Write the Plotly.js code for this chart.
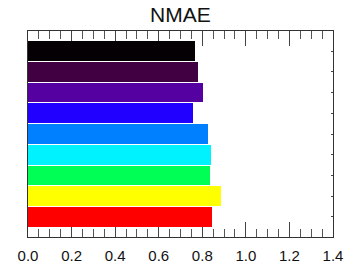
<!DOCTYPE html>
<html>
<head>
<meta charset="utf-8">
<script src="https://cdn.plot.ly/plotly-3.0.1.min.js"></script>
<style>html,body{margin:0;padding:0;background:#fff}#chart{width:347px;height:266px}</style>
</head>
<body>
<div id="chart"></div>
<script>
// bottom to top
const positions = [0, 1, 2, 3, 4, 5, 6, 7, 8];
const values = [0.843, 0.884, 0.835, 0.838, 0.825, 0.757, 0.805, 0.782, 0.765];
const colors = ['#ff0000', '#ffff00', '#00ff55', '#00f2ff', '#0080ff', '#2200ff', '#5500a0', '#400042', '#040004'];
const xRange = [0, 1.4];
const xMajorStep = 0.2;
const xMinorStep = 0.05;

const trace = {
  type: 'bar',
  orientation: 'h',
  x: values,
  y: positions,
  width: 0.95,
  marker: {color: colors, line: {width: 0}},
  hoverinfo: 'x'
};
// invisible helper so the top axis (with its minor ticks) is drawn
const topHelper = {
  type: 'scatter', mode: 'markers', x: [0], y: [0],
  xaxis: 'x2', yaxis: 'y', marker: {opacity: 0}, hoverinfo: 'skip'
};

const tickStyle = {
  range: xRange,
  tickmode: 'linear',
  tick0: 0,
  dtick: xMajorStep,
  tickformat: '.1f',
  ticks: 'inside',
  ticklen: 15,
  tickwidth: 1,
  tickcolor: '#444',
  showline: true,
  linecolor: '#333',
  linewidth: 1,
  showgrid: false,
  zeroline: false,
  layer: 'below traces',
  minor: {ticks: 'inside', tickmode: 'linear', tick0: 0, dtick: xMinorStep, ticklen: 8, tickwidth: 1, tickcolor: '#555', showgrid: false}
};

const layout = {
  width: 347,
  height: 266,
  margin: {l: 28, r: 14, t: 31, b: 29, pad: 0},
  paper_bgcolor: '#fff',
  plot_bgcolor: '#fff',
  showlegend: false,
  title: {
    text: 'NMAE',
    font: {family: 'Liberation Sans, Arial, sans-serif', size: 21, color: '#111'},
    x: 0.52, xanchor: 'center', xref: 'container',
    y: 0.945, yanchor: 'middle', yref: 'container'
  },
  xaxis: Object.assign({}, tickStyle, {
    ticklabelstandoff: 5,
    tickfont: {family: 'Liberation Sans, Arial, sans-serif', size: 15, color: '#111'}
  }),
  xaxis2: Object.assign({}, tickStyle, {
    overlaying: 'x',
    side: 'top',
    anchor: 'y',
    showticklabels: false
  }),
  yaxis: {
    range: [-0.975, 8.975],
    tickvals: positions,
    showticklabels: false,
    ticks: 'inside',
    ticklen: 2,
    tickcolor: '#444',
    mirror: 'ticks',
    showline: true,
    linecolor: '#333',
    linewidth: 1,
    showgrid: false,
    zeroline: false,
    layer: 'below traces'
  },
  bargap: 0
};

Plotly.newPlot('chart', [trace, topHelper], layout, {displayModeBar: false, staticPlot: true});
</script>
</body>
</html>
